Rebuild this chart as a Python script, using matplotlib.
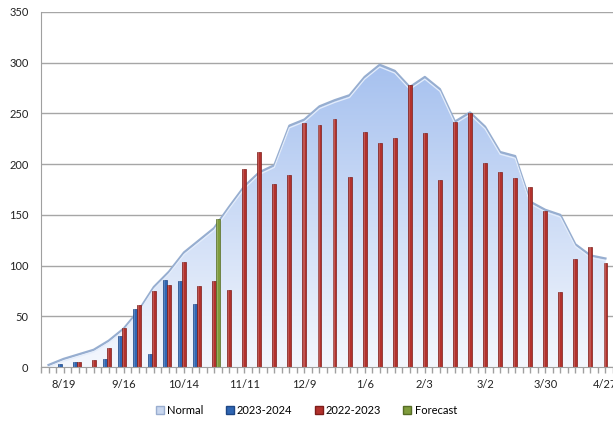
import numpy as np
import pandas as pd
import matplotlib
matplotlib.use('Agg')
import matplotlib.pyplot as plt
from matplotlib.patches import Polygon, Patch
from matplotlib.colors import to_rgb

plt.rcParams['font.family'] = ['Lato', 'DejaVu Sans']

# weekly categories, 8/12 .. 4/27
weeks = pd.date_range('2023-08-12', periods=38, freq='7D')
week_labels = [f'{d.month}/{d.day}' for d in weeks]

normal = [2, 8, 12.5, 17, 26, 38, 56, 79, 94, 113, 125, 137, 158, 178, 192, 199,
          238, 244, 257, 263, 268, 286, 298, 292, 276, 286, 274, 242, 251, 237,
          212, 208, 163, 155, 150, 121, 110, 107]

season_2324 = [0, 3, 4.5, 0, 8, 31, 57.5, 12.5, 85.5, 84.5, 62]

season_2223 = [0, 0, 5, 7, 18.5, 38, 61, 75, 80.5, 104, 79.5, 84.5, 75.5, 195,
               211.5, 180.5, 189, 241, 239, 245, 187, 232, 220.5, 225.5, 278.5,
               230.5, 184, 242, 250, 201.5, 192, 186, 177, 153.5, 73.5, 106, 118,
               102.5]

forecast_week = '10/28'
forecast = 145.5

x = np.arange(len(weeks))
fig = plt.figure(figsize=(6.13, 4.21), dpi=100)
ax = fig.add_axes([41/613, 1-367/421, 572/613, 355/421])

# gridlines behind everything
ax.set_axisbelow(True)
ax.yaxis.grid(True, color='#a6a6a6', lw=1)

# Normal area with vertical gradient
pts = [(x[0], 0)] + list(zip(x, normal)) + [(x[-1], 0)]
poly = Polygon(pts, closed=True, facecolor='none', edgecolor='none', zorder=2)
ax.add_patch(poly)
top = np.array(to_rgb('#a6c1ef'))
bot = np.array(to_rgb('#f4f7fd'))
t = np.linspace(0, 1, 256)[:, None]
grad = (top * (1 - t) + bot * t)[:, None, :]
img = ax.imshow(grad, extent=(x[0], x[-1], 0, max(normal)), aspect='auto',
                origin='upper', zorder=2, interpolation='bilinear')
img.set_clip_path(poly)
ax.plot(x, normal, color='#97aed0', lw=1.6, zorder=3, solid_joinstyle='round')
ax.plot(x, np.array(normal) - 2.2, color='#e4edfb', lw=0.9, zorder=3)

# bars
w = 0.26
def draw_bars(xs, vals, color, dark):
    ax.bar(xs, vals, width=w, color=color, edgecolor=dark, lw=0.5, zorder=4)
    ax.bar(np.array(xs) - w*0.12, vals, width=w*0.3, color='white', alpha=0.18,
           lw=0, zorder=5)

draw_bars(x[:len(season_2324)] - w, season_2324, '#2f66b3', '#1e4785')
draw_bars(x, season_2223, '#b2312c', '#7d1d1a')
fi = week_labels.index(forecast_week)
draw_bars([x[fi] + w], [forecast], '#7f9c3c', '#566c25')

ax.set_xlim(-0.5, len(weeks) - 0.5)
ax.set_ylim(0, 350)
ax.set_yticks(range(0, 351, 50))
ax.tick_params(axis='y', length=0, pad=9, labelsize=8, labelcolor='#222222')

lab_idx = list(range(1, len(weeks), 4))
ax.set_xticks(lab_idx)
ax.set_xticklabels([week_labels[i] for i in lab_idx])
ax.set_xticks(np.arange(-0.5, len(weeks), 0.5), minor=True)
ax.tick_params(axis='x', which='both', length=4, color='#a0a0a0', width=1,
               direction='out')
ax.tick_params(axis='x', which='major', pad=5, labelsize=8, labelcolor='#222222')

for s in ['top', 'right']:
    ax.spines[s].set_visible(False)
ax.spines['left'].set_color('#a0a0a0')
ax.spines['bottom'].set_color('#a0a0a0')
ax.spines['bottom'].set_zorder(6)

handles = [Patch(facecolor='#c9d7ef', edgecolor='#9aaed0'),
           Patch(facecolor='#2f66b3', edgecolor='#1e4785'),
           Patch(facecolor='#b2312c', edgecolor='#7d1d1a'),
           Patch(facecolor='#7f9c3c', edgecolor='#566c25')]
fig.legend(handles, ['Normal', '2023-2024', '2022-2023', 'Forecast'],
           loc='center', bbox_to_anchor=(0.5, 1-410/421), ncol=4, frameon=False,
           fontsize=8, handlelength=0.7, handleheight=0.7, handletextpad=0.3,
           columnspacing=2.0)

fig.savefig('out.png', dpi=100)
